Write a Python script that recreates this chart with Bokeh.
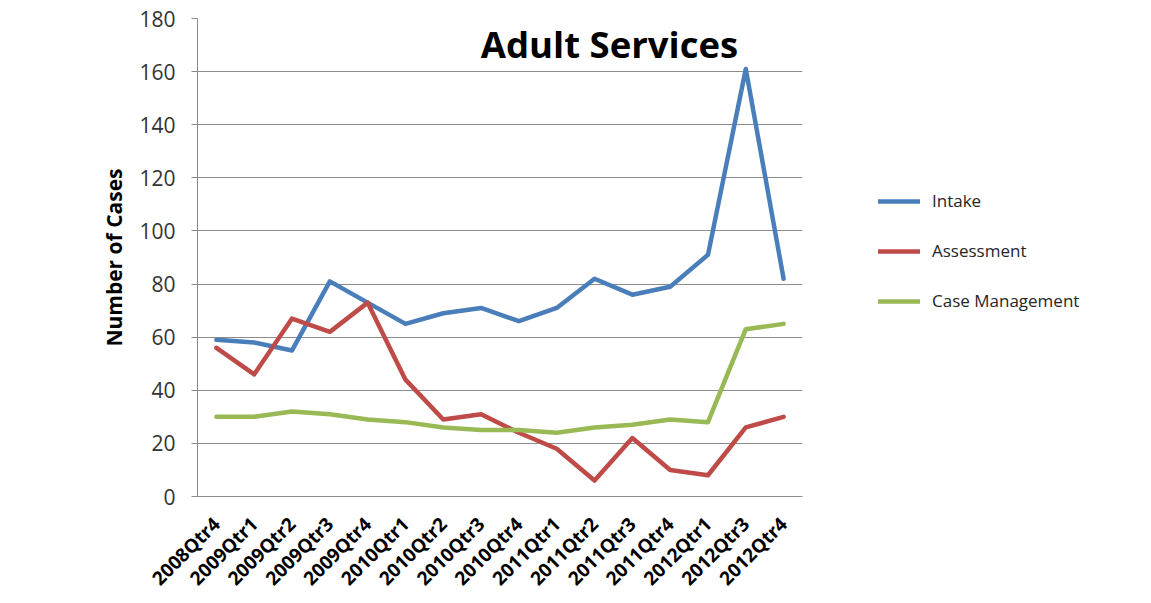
from bokeh.plotting import figure
from bokeh.layouts import row
from bokeh.models import Legend, LegendItem, Label, Range1d, FixedTicker
from bokeh.embed import file_html
from bokeh.resources import INLINE

quarters = ["2008Qtr4", "2009Qtr1", "2009Qtr2", "2009Qtr3", "2009Qtr4",
            "2010Qtr1", "2010Qtr2", "2010Qtr3", "2010Qtr4",
            "2011Qtr1", "2011Qtr2", "2011Qtr3", "2011Qtr4",
            "2012Qtr1", "2012Qtr3", "2012Qtr4"]
intake = [59, 58, 55, 81, 73, 65, 69, 71, 66, 71, 82, 76, 79, 91, 161, 82]
assessment = [56, 46, 67, 62, 73, 44, 29, 31, 24, 18, 6, 22, 10, 8, 26, 30]
case_management = [30, 30, 32, 31, 29, 28, 26, 25, 25, 24, 26, 27, 29, 28, 63, 65]
y_ticks = list(range(0, 181, 20))

series_names = ["Intake", "Assessment", "Case Management"]
series_values = [intake, assessment, case_management]
colors = ["#4A7EBB", "#BE4B48", "#98B954"]

FONT = "Open Sans"
H = 602

p = figure(x_range=quarters, y_range=Range1d(0, 180),
           width=812, height=H, output_backend="svg", toolbar_location=None,
           min_border_left=197, min_border_right=10, min_border_top=18,
           min_border_bottom=90)

for name, vals, c in zip(series_names, series_values, colors):
    p.line(quarters, vals, line_color=c, line_width=4.5, line_join="round", line_cap="round")

p.outline_line_color = None
p.background_fill_color = "white"
p.xgrid.grid_line_color = None
p.ygrid.grid_line_color = "#8c8c8c"
p.ygrid.grid_line_width = 1

p.yaxis.ticker = FixedTicker(ticks=y_ticks)
p.yaxis.axis_line_color = "#8c8c8c"
p.yaxis.major_tick_line_color = "#8c8c8c"
p.yaxis.major_tick_out = 6
p.yaxis.major_tick_in = 0
p.yaxis.minor_tick_line_color = None
p.yaxis.major_label_text_font = FONT
p.yaxis.major_label_text_font_size = "21px"
p.yaxis.major_label_text_color = "#333333"
p.yaxis.major_label_standoff = 16
p.yaxis.axis_label = "Number of Cases"
p.yaxis.axis_label_text_font = FONT
p.yaxis.axis_label_text_font_style = "bold"
p.yaxis.axis_label_text_font_size = "21px"
p.yaxis.axis_label_text_color = "#000000"
p.yaxis.axis_label_standoff = 8

p.xaxis.axis_line_color = "#8c8c8c"
p.xaxis.major_tick_line_color = None
p.xaxis.minor_tick_line_color = None
p.xaxis.major_label_orientation = 0.785
p.xaxis.major_label_text_font = FONT
p.xaxis.major_label_text_font_style = "bold"
p.xaxis.major_label_text_font_size = "19px"
p.xaxis.major_label_text_color = "#000000"
p.xaxis.major_label_standoff = 18

title = Label(x=412, y=453, x_units="screen", y_units="screen", text="Adult Services",
              text_font=FONT, text_font_style="bold", text_font_size="36.5px",
              text_align="center", text_baseline="alphabetic", text_color="#000000")
p.add_layout(title)

# legend panel to the right of the plot (its lines lie outside its visible range)
lp = figure(width=323, height=H, output_backend="svg", toolbar_location=None,
            x_range=Range1d(0, 1), y_range=Range1d(1000, 1001),
            min_border=0, outline_line_color=None)
lp.axis.visible = False
lp.grid.visible = False
items = []
for name, vals, c in zip(series_names, series_values, colors):
    r = lp.line(list(range(len(vals))), vals, line_color=c, line_width=4.5, line_cap="round")
    items.append(LegendItem(label=name, renderers=[r]))
legend = Legend(items=items, location=(66, 184), orientation="vertical",
                glyph_width=42, glyph_height=20, label_height=20, spacing=27,
                label_standoff=12, padding=0, margin=0,
                border_line_color=None, background_fill_alpha=0,
                label_text_font=FONT, label_text_font_size="17px",
                label_text_color="#262626")
lp.add_layout(legend, "center")

layout = row(p, lp, spacing=0)
open("out.html", "w").write(file_html(layout, INLINE))
